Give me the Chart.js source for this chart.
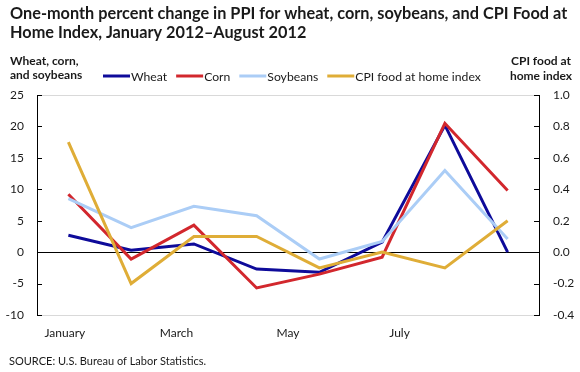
<!DOCTYPE html>
<html>
<head>
<meta charset="utf-8">
<script src="https://cdn.jsdelivr.net/npm/chart.js@4"></script>
<style>
  html, body { margin: 0; padding: 0; background: #fff; }
  canvas { display: block; }
</style>
</head>
<body>
<canvas id="ppi-chart" width="580" height="372"></canvas>
<script>
  // data
  const months = ['Jan', 'Feb', 'Mar', 'Apr', 'May', 'Jun', 'Jul', 'Aug'];
  const monthTicks = ['January', '', 'March', '', 'May', '', 'July', '', ''];
  const wheat = [2.7, 0.3, 1.3, -2.7, -3.2, 1.6, 20.2, 0.0];
  const corn = [9.2, -1.1, 4.3, -5.7, -3.5, -0.8, 20.5, 9.8];
  const soybeans = [8.5, 3.9, 7.3, 5.8, -1.1, 1.7, 13.0, 2.1];
  const cpiFood = [0.7, -0.2, 0.1, 0.1, -0.1, 0.0, -0.1, 0.2];

  const titleLines = [
    'One-month percent change in PPI for wheat, corn, soybeans, and CPI Food at',
    'Home Index, January 2012\u2013August 2012'
  ];
  const leftTitle = ['Wheat, corn,', 'and soybeans'];
  const rightTitle = ['CPI food at', 'home index'];
  const sourceNote = 'SOURCE: U.S. Bureau of Labor Statistics.';

  const FONT = 'Lato, "Open Sans", sans-serif';
  const TXT = '#1a1a1a';

  // titles, legend, source and inward tick marks
  const decorPlugin = {
    id: 'decor',
    afterDraw(chart) {
      const c = chart.ctx;
      c.save();
      c.fillStyle = TXT;
      c.textBaseline = 'alphabetic';

      c.font = 'bold 16.3px ' + FONT;
      c.textAlign = 'left';
      c.fillText(titleLines[0], 10, 19);
      c.fillText(titleLines[1], 10, 38);

      c.font = 'bold 12px ' + FONT;
      c.fillText(leftTitle[0], 10, 65);
      c.fillText(leftTitle[1], 10, 79);
      c.textAlign = 'center';
      c.fillText(rightTitle[0], 541, 65);
      c.fillText(rightTitle[1], 541, 80);

      // legend
      c.font = '12.2px ' + FONT;
      c.textAlign = 'left';
      c.textBaseline = 'middle';
      let x = 103;
      const ly = 76;
      chart.data.datasets.forEach(ds => {
        c.strokeStyle = ds.borderColor;
        c.lineWidth = 3;
        c.beginPath();
        c.moveTo(x, ly);
        c.lineTo(x + 27, ly);
        c.stroke();
        x += 28;
        c.fillStyle = TXT;
        c.fillText(ds.label, x, ly + 1);
        x += c.measureText(ds.label).width + 9;
      });

      c.font = '11px ' + FONT;
      c.fillText(sourceNote, 9, 361);

      // inward tick marks on both value axes
      const area = chart.chartArea;
      c.strokeStyle = '#000';
      c.lineWidth = 1;
      ['y', 'y2'].forEach(id => {
        const s = chart.scales[id];
        s.ticks.forEach(t => {
          const py = Math.round(s.getPixelForValue(t.value)) + 0.5;
          c.beginPath();
          if (id === 'y') { c.moveTo(area.left, py); c.lineTo(area.left + 5, py); }
          else { c.moveTo(area.right, py); c.lineTo(area.right - 5, py); }
          c.stroke();
        });
      });
      c.restore();
    }
  };

  function line(label, data, color, axis, order) {
    return {
      label, data, yAxisID: axis, order,
      borderColor: color, backgroundColor: color,
      borderWidth: 3, pointRadius: 0, tension: 0, fill: false
    };
  }

  new Chart(document.getElementById('ppi-chart'), {
    type: 'line',
    data: {
      labels: months,
      datasets: [
        line('Wheat', wheat, '#0e0b9a', 'y', 4),
        line('Corn', corn, '#d2272d', 'y', 3),
        line('Soybeans', soybeans, '#abcdf6', 'y', 2),
        line('CPI food at home index', cpiFood, '#dfad37', 'y2', 1)
      ]
    },
    options: {
      responsive: false,
      animation: false,
      layout: { padding: { top: 95, left: 0, right: 0, bottom: 27 } },
      plugins: { legend: { display: false }, tooltip: { enabled: false } },
      scales: {
        x: {
          position: 'bottom',
          offset: true,
          grid: { display: false },
          border: { display: true, color: '#d9d9d9' },
          ticks: { display: false },
          afterFit: s => { s.height = 0; }
        },
        xm: {
          type: 'category',
          position: 'bottom',
          labels: monthTicks,
          offset: true,
          grid: { display: false, drawTicks: false },
          border: { display: false },
          ticks: { color: TXT, padding: 11, autoSkip: false, maxRotation: 0, font: { family: FONT, size: 12 } },
          afterFit: s => { s.height = 30; }
        },
        y: {
          position: 'left',
          min: -10, max: 25,
          ticks: { stepSize: 5, color: TXT, padding: 13, font: { family: FONT, size: 12 } },
          grid: {
            drawTicks: false,
            color: ctx => ctx.tick.value === 0 ? '#000' : (ctx.tick.value === 25 ? '#d9d9d9' : 'rgba(0,0,0,0)')
          },
          border: { color: '#000' },
          afterFit: s => { s.width = 37; }
        },
        y2: {
          position: 'right',
          min: -0.4, max: 1.0,
          ticks: {
            stepSize: 0.2, color: TXT, padding: 14, font: { family: FONT, size: 12 },
            callback: v => (Math.abs(v) < 1e-9 ? 0 : v).toFixed(1)
          },
          grid: { display: false, drawTicks: false },
          border: { color: '#000' },
          afterFit: s => { s.width = 41; }
        }
      }
    },
    plugins: [decorPlugin]
  });
</script>
</body>
</html>
